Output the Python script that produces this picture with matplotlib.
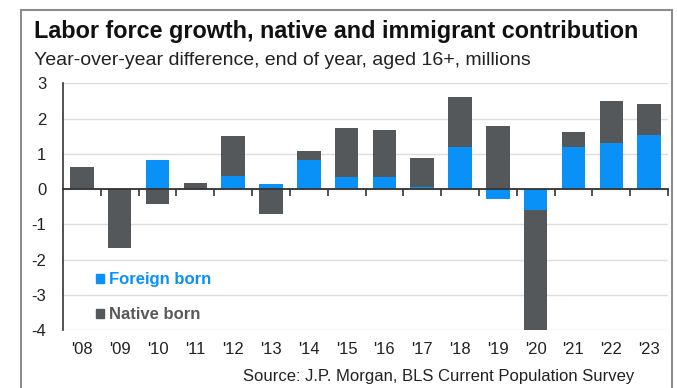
import matplotlib
matplotlib.use("Agg")
import matplotlib.pyplot as plt
from matplotlib.patches import Patch, Rectangle
import numpy as np

plt.rcParams['font.family'] = ['Liberation Sans', 'DejaVu Sans']
plt.rcParams['axes.unicode_minus'] = False

years = ["'08", "'09", "'10", "'11", "'12", "'13", "'14", "'15",
         "'16", "'17", "'18", "'19", "'20", "'21", "'22", "'23"]
foreign_born = [0.0, 0.0, 0.83, 0.0, 0.38, 0.13, 0.83, 0.35,
                0.35, 0.05, 1.2, -0.28, -0.6, 1.2, 1.3, 1.52]
native_born = [0.62, -1.68, -0.42, 0.18, 1.13, -0.72, 0.25, 1.38,
               1.33, 0.82, 1.42, 1.78, -3.45, 0.43, 1.2, 0.9]

BLUE = "#0A91F7"
GREY = "#55585B"

fig = plt.figure(figsize=(6.77, 3.88), dpi=100)
ax = fig.add_axes([63 / 677, 1 - 330 / 388, 605 / 677, (330 - 83.3) / 388])

x = np.arange(len(years))
fb = np.array(foreign_born)
nb = np.array(native_born)
# native bars stack on top of foreign when signs agree, otherwise start at zero
nb_base = np.where(np.sign(nb) == np.sign(fb), fb, 0.0)

width = 0.62
ax.bar(x, fb, width, color=BLUE, zorder=3, label="Foreign born")
ax.bar(x, nb, width, bottom=nb_base, color=GREY, zorder=3, label="Native born")

ax.set_xlim(-0.5, len(years) - 0.5)
ax.set_ylim(-4, 3)
ax.set_yticks(range(-4, 4))
ax.yaxis.grid(True, color="#dcdcdc", linewidth=1.0, zorder=0)
ax.set_axisbelow(True)

for s in ("top", "right", "bottom"):
    ax.spines[s].set_visible(False)
ax.spines["left"].set_color("#333333")
ax.spines["left"].set_linewidth(1.2)

ax.set_xticks(x)
ax.set_xticklabels(years)
ax.tick_params(axis="x", length=0, pad=9, labelsize=12, labelcolor="#222222")
ax.tick_params(axis="y", length=0, pad=12, labelsize=12, labelcolor="#222222")
for lbl in ax.get_yticklabels():
    lbl.set_horizontalalignment("right")

# zero line with category-boundary ticks
sec = ax.secondary_xaxis(0, transform=ax.transData)
sec.set_xticks(np.arange(len(years) + 1) - 0.5 + 1)
sec.set_xticklabels([])
sec.tick_params(axis="x", direction="out", length=5, width=1.2, color="#333333")
sec.spines["bottom"].set_color("#333333")
sec.spines["bottom"].set_linewidth(1.3)
sec.set_zorder(4)

handles = [Patch(color=BLUE, label="Foreign born"), Patch(color=GREY, label="Native born")]
leg = ax.legend(handles=handles, loc="lower left", bbox_to_anchor=(0.03, -0.03),
                frameon=False, handlelength=0.45, handleheight=0.45,
                handletextpad=0.35, labelspacing=1.2,
                prop={"weight": "bold", "size": 12})
leg.get_texts()[0].set_color(BLUE)
leg.get_texts()[1].set_color("#595959")

fig.text(34 / 677, 1 - 38 / 388, "Labor force growth, native and immigrant contribution",
         fontsize=16.8, fontweight="bold", color="#111111", va="baseline", ha="left")
fig.text(34 / 677, 1 - 65 / 388, "Year-over-year difference, end of year, aged 16+, millions",
         fontsize=14, color="#222222", va="baseline", ha="left")
fig.text(634 / 677, 1 - 381 / 388, "Source: J.P. Morgan, BLS Current Population Survey",
         fontsize=12, color="#222222", va="baseline", ha="right")

fig.add_artist(Rectangle((21 / 677, -0.1), (672 - 21) / 677, 1.1 - 10 / 388,
                         transform=fig.transFigure, fill=False,
                         edgecolor="#8c8c8c", linewidth=1.5, clip_on=False))

fig.savefig("out.png", dpi=100)
